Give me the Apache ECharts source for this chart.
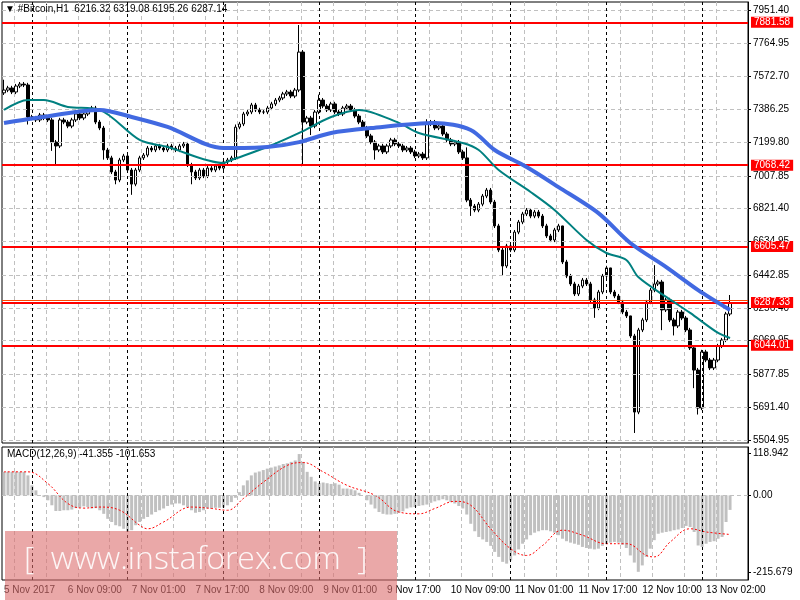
<!DOCTYPE html>
<html>
<head>
<meta charset="utf-8">
<script src="https://cdn.jsdelivr.net/npm/echarts@6/dist/echarts.min.js"></script>
<style>html,body{margin:0;padding:0;background:#fff}#main{width:800px;height:600px}</style>
</head>
<body>
<div id="main"></div>
<script>
// closes per H1 bar (bar 0 = 5 Nov 17:00)
var closes = [7496,7508,7485,7519,7530,7525,7343,7337,7326,7354,7337,7326,7200,7178,7326,7314,7291,7326,7360,7337,
  7360,7383,7394,7314,7280,7155,7110,7030,6984,7098,7121,7041,6961,7041,7110,7126,7166,7155,7178,7166,
  7155,7178,7166,7155,7178,7189,7070,7030,6996,7041,7007,7052,7041,7064,7052,7087,7098,7110,7285,7303,
  7360,7371,7411,7383,7371,7371,7394,7417,7439,7451,7474,7485,7462,7496,7712,7314,7337,7291,7371,7439,
  7405,7383,7417,7371,7360,7394,7405,7383,7348,7314,7280,7235,7200,7155,7178,7144,7178,7212,7189,7178,
  7155,7166,7144,7121,7132,7110,7303,7314,7280,7291,7246,7212,7189,7200,7144,7110,6870,6836,6813,6847,
  6893,6927,6859,6723,6586,6495,6609,6586,6688,6745,6791,6813,6779,6802,6779,6723,6666,6643,6700,6723,
  6518,6438,6393,6336,6381,6415,6393,6302,6256,6347,6438,6484,6347,6324,6290,6233,6211,6097,5664,6131,
  6188,6290,6358,6393,6404,6245,6302,6188,6154,6233,6199,6131,6029,5903,5687,6006,5960,5915,5960,6040,
  6074,6222,6287];
var firstOpen = 7480;
// wicks that stand out: bar -> [high, low]
var wicks = {0:[7555,null],6:[null,7300],12:[null,7150],13:[null,7070],25:[null,7100],28:[null,6960],
  32:[null,6900],47:[null,6960],58:[7300,null],74:[7866,null],75:[null,7070],77:[null,7240],79:[7470,null],
  93:[null,7100],106:[7330,null],116:[7170,null],117:[null,6780],125:[null,6440],140:[6580,null],
  148:[null,6200],152:[6460,null],157:[6170,null],158:[null,5545],163:[6500,null],165:[null,6130],
  168:[null,6100],173:[null,5800],174:[null,5650],182:[6330,null]};

// moving averages, knots: [bar, price]
var maTeal = [[0,7383],[6,7439],[10,7439],[16,7400],[24,7383],[34,7212],[41,7172],[55,7081],[57,7098],
  [66,7172],[74,7252],[82,7343],[89,7383],[99,7309],[104,7252],[115,7195],[119,7155],[124,7041],
  [132,6916],[138,6814],[146,6643],[151,6569],[156,6529],[159,6432],[166,6319],[172,6228],[179,6114],[182,6085]];
var maBlue = [[0,7309],[8,7337],[24,7383],[32,7343],[41,7286],[55,7166],[66,7172],[74,7200],[82,7252],
  [92,7280],[108,7309],[117,7269],[123,7155],[131,7058],[139,6944],[149,6796],[157,6626],[166,6489],
  [174,6358],[182,6245]];

var levels = [7881.58, 7068.42, 6605.47, 6287.33, 6044.01];
var priceTicks = [7951.40,7764.95,7572.70,7386.25,7199.80,7007.85,6821.40,6634.95,6442.85,6256.40,6069.95,5877.85,5691.40,5504.95];
var timeLabels = ['5 Nov 2017','6 Nov 09:00','7 Nov 01:00','7 Nov 17:00','8 Nov 09:00','9 Nov 01:00',
  '9 Nov 17:00','10 Nov 09:00','11 Nov 01:00','11 Nov 17:00','12 Nov 10:00','13 Nov 02:00'];
var dayBars = [7,31,55,79,103,127,151,175];

var macdHist = [66,66,66,66,66,66,56,28,14,0,-5,-14,-28,-44,-44,-42,-42,-40,-36,-35,
  -31,-33,-37,-36,-42,-52,-66,-75,-84,-87,-94,-103,-98,-84,-75,-66,-61,-54,-47,-42,
  -37,-30,-26,-23,-23,-28,-33,-42,-49,-47,-42,-37,-37,-35,-35,-34,-28,-19,-7,9,
  28,42,56,64,67,71,75,78,81,84,88,90,94,98,116,94,66,52,39,34,
  36,34,32,34,30,19,19,17,14,7,0,-14,-26,-37,-47,-52,-54,-54,-52,-49,
  -45,-37,-34,-33,-30,-28,-26,-21,-17,-14,-11,-14,-19,-23,-30,-37,-54,-80,-101,-117,
  -124,-131,-142,-159,-173,-187,-192,-183,-169,-152,-136,-124,-112,-105,-101,-98,-98,-101,-105,-112,
  -122,-129,-133,-136,-139,-145,-148,-150,-152,-150,-142,-136,-133,-131,-133,-139,-148,-169,-189,-215,
  -197,-173,-150,-126,-108,-105,-103,-101,-98,-96,-92,-86,-89,-103,-141,-145,-136,-131,-129,-122,
  -117,-75,-41];
var macdSignal = [[0,66],[6,66],[11,33],[16,-23],[20,-36],[24,-33],[29,-42],[34,-84],[36,-94],[40,-75],
  [47,-33],[52,-37],[56,-42],[60,-9],[65,37],[71,84],[75,92],[80,66],[86,28],[93,0],[99,-47],[104,-52],
  [108,-37],[113,-17],[117,-28],[122,-94],[127,-150],[131,-169],[135,-141],[140,-98],[145,-112],
  [151,-136],[156,-136],[161,-169],[163,-173],[167,-131],[172,-94],[176,-103],[182,-110]];

var nBars = 187;
var cats = [];
for (var i = 0; i < nBars; i++) cats.push(i);

var candles = [];
var prev = firstOpen;
for (var i = 0; i < closes.length; i++) {
  var o = prev, c = closes[i];
  var hi = Math.max(o, c) + 12, lo = Math.min(o, c) - 12;
  if (wicks[i]) {
    if (wicks[i][0] != null) hi = wicks[i][0];
    if (wicks[i][1] != null) lo = wicks[i][1];
  }
  candles.push([o, c, lo, hi]);
  prev = c;
}

var font = 'Liberation Sans';
var chart = echarts.init(document.getElementById('main'));

var gridLines = priceTicks.map(function (v) { return { yAxis: v }; });
var levelLines = levels.map(function (v) {
  return { yAxis: v, label: { formatter: v.toFixed(2) } };
});
var dayLines = dayBars.map(function (b) { return { xAxis: b }; });

function xAxisFor(grid, showLabels) {
  return {
    type: 'category', gridIndex: grid, data: cats, boundaryGap: true,
    axisLine: { show: false }, axisTick: { show: false },
    axisLabel: {
      show: showLabels, align: 'left', margin: 5, color: '#000', fontFamily: font, fontSize: 10,
      hideOverlap: false, interval: 0,
      formatter: function (v, idx) {
        return (idx % 16 === 0 && timeLabels[idx / 16]) ? timeLabels[idx / 16] : '';
      }
    },
    splitLine: {
      show: true,
      interval: function (idx) { return idx % 8 === 3; },
      lineStyle: { color: '#c0c0c0', type: [4, 3] }
    }
  };
}

chart.setOption({
  animation: false,
  textStyle: { fontFamily: font },
  grid: [
    { left: 2, right: 52, top: 2, height: 441, show: true, borderColor: '#000', borderWidth: 1 },
    { left: 2, right: 52, top: 447, height: 133, show: true, borderColor: '#000', borderWidth: 1 }
  ],
  xAxis: [xAxisFor(0, false), xAxisFor(1, true)],
  yAxis: [
    {
      gridIndex: 0, position: 'right', min: 5488, max: 7997, scale: true,
      axisLine: { show: true, lineStyle: { color: '#000' } },
      axisTick: { show: true, customValues: priceTicks, length: 3, lineStyle: { color: '#000' } },
      axisLabel: { customValues: priceTicks, margin: 5, color: '#000', fontSize: 10, fontFamily: font,
        formatter: function (v) { return v.toFixed(2); } },
      splitLine: { show: false }
    },
    {
      gridIndex: 1, position: 'right', min: -238, max: 135.8,
      axisLine: { show: true, lineStyle: { color: '#000' } },
      axisTick: { show: true, customValues: [118.942, 0, -215.679], length: 3, lineStyle: { color: '#000' } },
      axisLabel: { customValues: [118.942, 0, -215.679], margin: 5, color: '#000', fontSize: 10, fontFamily: font,
        formatter: function (v) { return v === 0 ? '0.00' : v.toFixed(3); } },
      splitLine: { show: false }
    }
  ],
  series: [
    {
      type: 'candlestick', xAxisIndex: 0, yAxisIndex: 0, data: candles, barWidth: 3,
      itemStyle: { color: '#fff', color0: '#000', borderColor: '#000', borderColor0: '#000', borderWidth: 1 },
      markLine: {
        silent: true, symbol: 'none', animation: false,
        data: gridLines,
        lineStyle: { color: '#c0c0c0', type: [4, 3], width: 1 },
        label: { show: false }
      },
      z: 3
    },
    {
      type: 'line', xAxisIndex: 0, yAxisIndex: 0, data: [], symbol: 'none',
      markLine: {
        silent: true, symbol: 'none', animation: false,
        data: dayLines,
        lineStyle: { color: '#000', type: [3, 3], width: 1 },
        label: { show: false }
      },
      z: 2
    },
    {
      type: 'line', xAxisIndex: 0, yAxisIndex: 0, data: [], symbol: 'none',
      markLine: {
        silent: true, symbol: 'none', animation: false,
        data: levelLines.concat([{ yAxis: 6300, label: { show: false }, lineStyle: { width: 1, color: '#ff4500' } }]),
        lineStyle: { color: '#ff0000', type: 'solid', width: 2 },
        label: {
          show: true, position: 'end', distance: 3, color: '#fff', backgroundColor: '#ff0000',
          fontSize: 10, fontFamily: font, padding: [1, 3, 0, 3]
        }
      },
      z: 4
    },
    {
      type: 'line', xAxisIndex: 0, yAxisIndex: 0, data: maTeal, symbol: 'none', smooth: 0.3,
      lineStyle: { color: '#008080', width: 2 }, z: 5
    },
    {
      type: 'line', xAxisIndex: 0, yAxisIndex: 0, data: maBlue, symbol: 'none', smooth: 0.3,
      lineStyle: { color: '#4169e1', width: 4 }, z: 6
    },
    {
      type: 'bar', xAxisIndex: 1, yAxisIndex: 1, data: macdHist, barWidth: 3,
      itemStyle: { color: '#c0c0c0' },
      markLine: {
        silent: true, symbol: 'none', animation: false,
        data: [{ yAxis: 0, lineStyle: { color: '#c0c0c0', type: [4, 3] } }].concat(dayLines),
        lineStyle: { color: '#000', type: [3, 3], width: 1 },
        label: { show: false }
      }
    },
    {
      type: 'line', xAxisIndex: 1, yAxisIndex: 1, data: macdSignal, symbol: 'none', smooth: 0.4,
      lineStyle: { color: '#ff0000', width: 1, type: [2, 2] }
    }
  ],
  graphic: [
    { type: 'text', left: 5, top: 4, z: 20, style: { text: '\u25bc #Bitcoin,H1  6216.32 6319.08 6195.26 6287.14', fill: '#000', font: '10px ' + font } },
    { type: 'text', left: 7, top: 449, z: 20, style: { text: 'MACD(12,26,9) -41.355 -101.653', fill: '#000', font: '10px ' + font } },
    { type: 'rect', left: 5, top: 531, z: 15, shape: { width: 392, height: 69 }, style: { fill: 'rgba(220,110,110,0.6)' } },
    { type: 'text', left: 24, top: 544, z: 16, style: { text: '[  www.instaforex.com  ]', fill: 'rgba(255,255,255,0.9)', font: '300 32px "Open Sans"' } }
  ]
});
</script>
</body>
</html>
